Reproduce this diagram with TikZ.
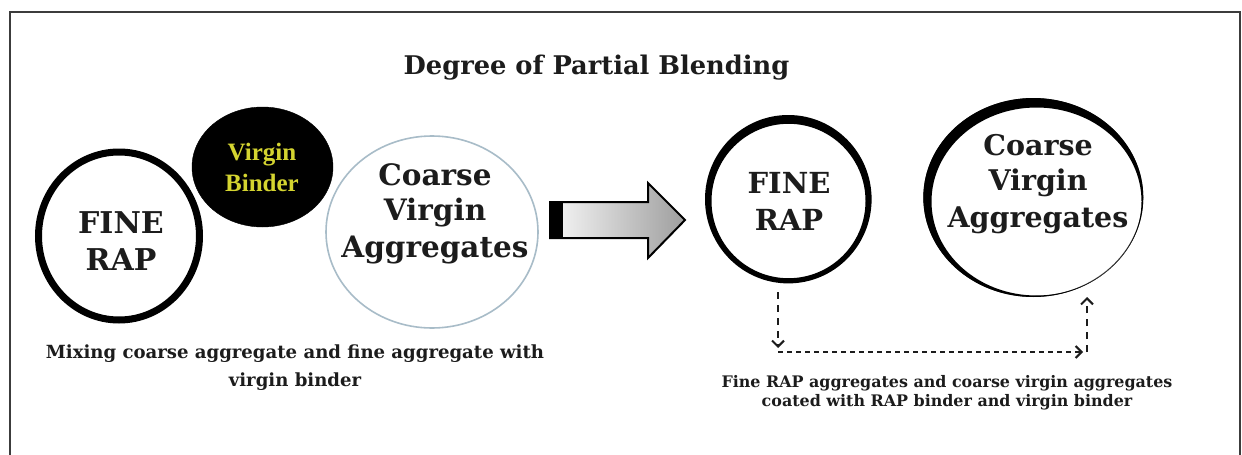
\documentclass[tikz,border=0pt]{standalone}
\usepackage{fontspec}
\setmainfont{DejaVu Serif}
\newfontfamily\vbfont{Liberation Serif}
\usetikzlibrary{arrows.meta,shapes.geometric}
\definecolor{ink}{RGB}{28,28,28}
\definecolor{binderyellow}{RGB}{212,212,48}
\definecolor{ringblue}{RGB}{168,188,200}
\definecolor{framegray}{RGB}{60,60,60}
\begin{document}
\begin{tikzpicture}[x=1pt,y=-1pt,
  lab/.style={anchor=base,inner sep=0pt,text=ink,font=\bfseries\fontsize{#1}{#1}\selectfont},
  vblab/.style={anchor=base,inner sep=0pt,text=binderyellow,font=\vbfont\bfseries\fontsize{25}{25}\selectfont},
  ring/.style={ellipse,draw=black,inner sep=0pt},
  dasharrow/.style={draw=ink,line width=2pt,-{Straight Barb[length=6pt,width=12pt]}},
  bigarrow/.style={draw=black,line width=2pt,line join=miter,left color=black!3,right color=black!38}]
\useasboundingbox (0,0) rectangle (1242,455);
\fill[white] (0,0) rectangle (1242,455);
% frame
\draw[framegray,line width=1.5pt] (10,456) -- (10,12) -- (1240,12) -- (1240,456);
% title
\node[lab=25.7] (title) at (596.5,74) {Degree of Partial Blending};
% left group
\node[ring,fill=black,minimum width=141pt,minimum height=120pt] (vb) at (262.5,167) {};
\node[ring,line width=7pt,minimum width=161pt,minimum height=168pt] (frL) at (119,236) {};
\node[ring,draw=ringblue,line width=1.6pt,minimum width=212pt,minimum height=192pt] (cvL) at (432,232) {};
\node[vblab] (vb1) at (262,160) {Virgin};
\node[vblab] (vb2) at (262,191) {Binder};
\node[lab=30] (frL1) at (121,233) {FINE};
\node[lab=30] (frL2) at (121,270) {RAP};
\node[lab=29.5] (cvL1) at (435,185) {Coarse};
\node[lab=29.5] (cvL2) at (435,220) {Virgin};
\node[lab=29.5] (cvL3) at (435,257) {Aggregates};
\node[lab=18.1] (mix1) at (295,358) {Mixing coarse aggregate and fine aggregate with};
\node[lab=18.1] (mix2) at (295,386) {virgin binder};
% big arrow
\shadedraw[bigarrow] (550,202) -- (648,202) -- (648,183) -- (685,220) -- (648,258) -- (648,238) -- (550,238) -- cycle;
\fill[black] (550,202) rectangle (563,238);
% right group
\node[ring,draw=none,minimum width=166.6pt,minimum height=168.4pt] (frR) at (788.3,199.2) {};
\fill[black,even odd rule] (frR.center) ellipse [x radius=83.3pt, y radius=84.2pt] (788.5,201) ellipse [x radius=77pt, y radius=77.2pt];
\node[ring,draw=black!75,line width=0.9pt,minimum width=219pt,minimum height=198pt] (cvR) at (1033.3,197.5) {};
\fill[black,even odd rule] (cvR.center) ellipse [x radius=110pt, y radius=99.5pt] (1036.5,201.5) ellipse [x radius=105pt, y radius=94pt];
\node[lab=29] (frR1) at (789,193) {FINE};
\node[lab=29] (frR2) at (789,230) {RAP};
\node[lab=28.5] (cvR1) at (1038,155) {Coarse};
\node[lab=28.5] (cvR2) at (1038,190) {Virgin};
\node[lab=28.5] (cvR3) at (1038,227) {Aggregates};
% dashed connectors
\coordinate (a1) at (778,292);
\coordinate (a2) at (778,348);
\coordinate (b1) at (778,352);
\coordinate (b2) at (1083,352);
\coordinate (c1) at (1087,352);
\coordinate (c2) at (1087,297);
\draw[dasharrow,dash pattern=on 7pt off 6pt] (a1) -- (a2);
\draw[dasharrow,dash pattern=on 5pt off 4pt] (b1) -- (b2);
\draw[dasharrow,dash pattern=on 7pt off 6pt] (c1) -- (c2);
\node[lab=15.9] (res1) at (947,387) {Fine RAP aggregates and coarse virgin aggregates};
\node[lab=15.9] (res2) at (947,406) {coated with RAP binder and virgin binder};
\end{tikzpicture}
\end{document}
